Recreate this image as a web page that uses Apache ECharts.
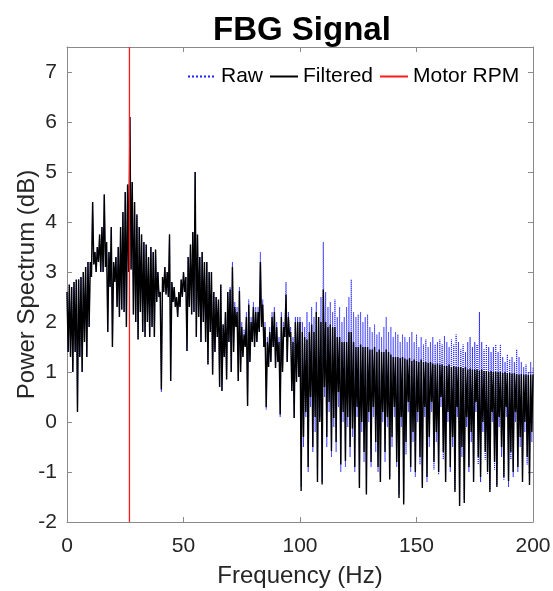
<!DOCTYPE html>
<html>
<head>
<meta charset="utf-8">
<script src="https://cdn.jsdelivr.net/npm/echarts@6/dist/echarts.min.js"></script>
<style>html,body{margin:0;padding:0;background:#fff;}#c{width:553px;height:591px;}</style>
</head>
<body>
<div id="c"></div>
<script>
// Frequency grid: a peak value at every whole Hz, a trough value half a Hz later
var xTicks = [0, 50, 100, 150, 200];
var yTicks = [-2, -1, 0, 1, 2, 3, 4, 5, 6, 7];
var motorRpmHz = 26.8;

// Filtered spectrum, local maxima (index = Hz, 0..200)
var filteredPeaks = [
2.6,2.75,2.7,2.8,2.85,2.85,2.9,3.0,3.1,3.2,
3.2,4.4,3.4,3.5,3.75,3.9,4.55,3.6,3.4,3.9,
3.2,3.3,3.5,3.9,4.2,4.6,4.75,6.1,4.8,4.4,
4.15,3.9,3.75,3.6,3.55,3.3,3.5,3.4,3.45,3.0,
2.6,2.9,3.1,3.0,3.75,2.8,2.7,2.5,2.6,2.85,
3.0,2.9,3.3,3.55,3.8,5.0,3.75,3.3,3.4,3.2,
3.2,3.0,3.0,2.6,2.5,2.45,2.75,1.95,2.2,2.6,
2.65,3.1,2.3,2.2,2.62,1.9,1.75,2.1,2.35,2.0,
2.3,2.2,2.2,3.2,2.35,1.9,1.6,1.8,2.1,2.2,
1.9,1.6,2.1,1.9,2.55,2.1,1.8,1.6,2.0,2.0,
2.0,1.8,1.7,1.65,1.8,1.95,1.8,2.2,2.1,2.0,
2.65,2.0,1.9,1.95,1.9,1.9,1.7,1.7,1.6,1.6,
1.6,1.8,1.8,1.6,1.5,1.5,1.55,1.5,1.5,1.5,
1.45,1.45,1.5,1.4,1.45,1.4,1.4,1.45,1.4,1.35,
1.3,1.3,1.3,1.28,1.3,1.27,1.25,1.28,1.22,1.25,
1.22,1.2,1.25,1.2,1.2,1.18,1.2,1.17,1.15,1.17,
1.15,1.15,1.12,1.12,1.15,1.1,1.12,1.1,1.1,1.1,
1.08,1.1,1.05,1.07,1.05,1.05,1.05,1.03,1.05,1.02,
1.02,1.0,1.02,1.0,1.0,1.0,1.0,0.98,1.0,0.98,
0.98,0.97,0.98,0.96,0.95,0.96,0.95,0.95,0.94,0.95,
0.95];

// Filtered spectrum, local minima (index i -> i + 0.5 Hz)
var filteredTroughs = [
1.4,1.3,1.0,1.4,0.2,1.3,1.0,1.6,1.3,1.9,
2.9,3.15,3.0,3.2,3.0,3.0,3.1,1.8,2.7,1.5,
2.8,2.3,2.1,2.25,2.2,1.9,3.0,3.05,2.15,2.0,
1.65,2.2,1.8,1.7,2.0,1.7,1.9,1.7,2.4,2.5,
0.65,2.6,2.55,2.5,0.82,2.4,2.3,2.1,2.3,2.5,
2.6,1.42,2.3,2.15,2.2,1.7,2.1,1.6,2.0,1.6,
1.15,1.8,0.95,1.4,1.7,0.7,0.62,1.3,0.85,1.6,
1.0,1.4,1.9,0.82,1.0,1.3,1.5,0.32,1.2,1.6,
1.5,1.6,1.8,1.9,1.5,0.3,1.1,1.2,1.5,1.08,
1.2,0.15,1.0,1.7,1.2,1.7,0.62,0.08,0.8,0.9,
-1.38,-0.3,0.2,-0.9,0.5,-0.5,0.1,-1.2,0.0,-1.25,
0.7,-0.3,0.4,-0.58,0.08,-0.4,0.6,-0.85,0.2,-0.78,
0.1,-0.5,-0.13,-0.9,0.3,-1.32,0.0,-0.6,-1.45,0.2,
-0.8,0.3,-0.4,-0.9,-1.2,0.2,-0.6,0.1,-1.15,-0.3,
0.3,-0.8,-1.52,0.1,-1.65,-0.4,0.4,-0.9,-0.2,-1.0,
0.2,-0.7,-1.32,0.3,-1.1,-0.3,0.4,-0.8,-0.2,-1.0,
0.5,-0.6,-1.2,0.2,-0.9,-0.3,-1.4,0.3,-1.68,-0.5,
-1.62,0.1,-0.9,-0.2,-1.2,0.4,-0.7,-1.1,0.0,-0.6,
-1.0,-1.4,0.2,-0.8,-1.3,0.1,-0.5,-1.1,0.3,-1.18,
-0.6,-1.0,0.2,-0.9,-0.3,-1.2,0.0,-0.7,-1.26,-0.2];

// Raw spectrum, local maxima (index = Hz, 0..200)
var rawPeaks = [
2.6,2.75,2.7,2.8,2.85,2.85,2.9,3.0,3.1,3.2,
3.2,4.4,3.4,3.5,3.75,3.9,4.55,3.6,3.4,3.9,
3.2,3.3,3.5,3.9,4.2,4.6,4.75,6.1,4.8,4.4,
4.15,3.9,3.75,3.6,3.55,3.3,3.5,3.4,3.45,3.0,
2.6,2.9,3.1,3.0,3.75,2.8,2.7,2.5,2.6,2.85,
3.0,2.9,3.3,3.55,3.8,5.0,3.75,3.3,3.4,3.2,
3.2,3.0,3.0,2.6,2.5,2.45,2.75,1.95,2.2,2.6,
2.7,3.2,2.4,2.3,2.7,2.0,1.85,2.2,2.45,2.1,
2.4,2.3,2.3,3.4,2.45,2.0,1.7,1.9,2.2,2.3,
2.0,1.7,2.2,2.0,2.8,2.2,1.9,1.7,2.1,2.1,
2.1,2.0,1.9,2.2,2.0,2.3,2.1,2.4,2.1,2.5,
3.6,2.6,2.3,2.4,2.2,2.45,2.1,2.3,2.0,2.1,
2.3,2.5,2.85,2.2,2.1,2.15,2.2,2.0,2.1,2.15,
1.9,1.8,1.95,1.75,1.8,1.7,1.9,2.1,1.8,1.9,
1.7,1.8,1.75,1.6,1.75,1.7,1.6,1.7,1.8,1.6,
1.75,1.5,1.7,1.55,1.65,1.5,1.6,1.7,1.55,1.6,
1.65,1.55,1.72,1.6,1.5,1.65,1.55,1.75,1.6,1.45,
1.55,1.4,1.6,1.7,1.5,1.6,1.55,2.2,1.6,1.45,
1.55,1.5,1.4,1.5,1.55,1.4,1.55,1.3,1.2,1.35,
1.25,1.3,1.2,1.45,1.3,1.2,1.1,1.15,1.0,1.2,
1.1];

// Raw spectrum, local minima (index i -> i + 0.5 Hz)
var rawTroughs = [
1.4,1.3,1.0,1.4,0.2,1.3,1.0,1.6,1.3,1.9,
2.9,3.15,3.0,3.2,3.0,3.0,3.1,1.8,2.7,1.5,
2.8,2.3,2.1,2.25,2.2,1.9,3.0,3.05,2.15,2.0,
1.65,2.2,1.8,1.7,2.0,1.7,1.9,1.7,2.4,2.5,
0.6,2.6,2.55,2.5,0.82,2.4,2.3,2.1,2.3,2.5,
2.6,1.42,2.3,2.15,2.2,1.7,2.1,1.6,2.0,1.6,
1.15,1.8,0.95,1.4,1.7,0.7,0.62,1.3,0.85,1.6,
1.0,1.4,1.9,0.82,1.0,1.3,1.5,0.32,1.2,1.6,
1.5,1.6,1.8,1.9,1.5,0.25,1.1,1.2,1.5,1.08,
1.2,0.1,1.0,1.7,1.2,1.7,0.62,0.08,0.8,0.9,
-1.3,-0.5,0.1,-1.0,0.3,-0.6,-0.2,-1.1,0.1,-1.2,
0.5,-0.5,0.2,-0.7,-0.1,-0.6,0.3,-1.0,0.0,-0.9,
-0.1,-0.7,-0.3,-1.0,0.1,-1.25,-0.2,-0.8,-1.4,0.0,
-0.9,0.1,-0.6,-1.0,-1.1,0.0,-0.8,-0.1,-1.1,-0.5,
0.1,-0.9,-1.45,-0.1,-1.6,-0.65,0.2,-1.0,-0.4,-1.1,
0.0,-0.85,-1.25,0.1,-1.2,-0.5,0.2,-0.95,-0.4,-1.05,
0.3,-0.75,-1.15,0.0,-1.0,-0.5,-1.35,0.1,-1.6,-0.7,
-1.55,-0.1,-1.0,-0.4,-1.15,0.2,-0.85,-1.2,-0.2,-0.75,
-1.05,-1.35,0.0,-0.95,-1.25,-0.1,-0.7,-1.15,0.1,-1.3,
-0.75,-1.1,0.0,-1.0,-0.5,-1.15,-0.2,-0.85,-1.2,-0.4];

function interleave(peaks, troughs) {
  var out = [];
  for (var i = 0; i < troughs.length; i++) {
    out.push([i, peaks[i]]);
    out.push([i + 0.5, troughs[i]]);
  }
  out.push([troughs.length, peaks[troughs.length]]);
  return out;
}

var rawData = interleave(rawPeaks, rawTroughs);
var filteredData = interleave(filteredPeaks, filteredTroughs);
var yMin = yTicks[0], yMax = 7.5;
var rpmData = [[motorRpmHz, yMin], [motorRpmHz, yMax]];

var axisCol = '#8a8a8a';
var textCol = '#262626';
var font = 'Liberation Sans, Arial, sans-serif';

var chart = echarts.init(document.getElementById('c'), null, {renderer: 'canvas'});
chart.setOption({
  animation: false,
  backgroundColor: '#fff',
  title: {
    text: 'FBG Signal',
    left: 208, top: 9,
    textStyle: {fontFamily: font, fontSize: 33, fontWeight: 'bold', color: '#000'}
  },
  legend: {
    data: ['Raw', 'Filtered', 'Motor RPM'],
    left: 182, top: 61,
    itemWidth: 28, itemHeight: 14, itemGap: 6,
    itemStyle: {color: 'rgba(0,0,0,0)', borderColor: 'rgba(0,0,0,0)', borderWidth: 0},
    textStyle: {fontFamily: font, fontSize: 21, color: '#000'}
  },
  grid: {left: 67, right: 20, top: 47, bottom: 69, containLabel: false, outerBoundsMode: 'none'},
  xAxis: [{
    type: 'value', min: xTicks[0], max: xTicks[xTicks.length - 1], interval: 50,
    position: 'bottom',
    name: 'Frequency (Hz)', nameLocation: 'middle', nameGap: 42, nameMoveOverlap: false,
    nameTextStyle: {fontFamily: font, fontSize: 24, color: textCol},
    axisLine: {show: true, onZero: false, lineStyle: {color: axisCol, width: 1}},
    axisTick: {show: true, inside: true, length: 5, lineStyle: {color: axisCol}},
    axisLabel: {fontFamily: font, fontSize: 21, color: textCol, margin: 14},
    splitLine: {show: false}
  }, {
    type: 'value', min: xTicks[0], max: xTicks[xTicks.length - 1], interval: 50,
    position: 'top',
    axisLine: {show: true, onZero: false, lineStyle: {color: axisCol, width: 1}},
    axisTick: {show: true, inside: true, length: 5, lineStyle: {color: axisCol}},
    axisLabel: {show: false},
    splitLine: {show: false}
  }],
  yAxis: [{
    type: 'value', min: yMin, max: yMax, interval: 1,
    position: 'left',
    name: 'Power Spectrum (dB)', nameLocation: 'middle', nameGap: 28, nameMoveOverlap: false,
    nameTextStyle: {fontFamily: font, fontSize: 24, color: textCol},
    axisLine: {show: true, onZero: false, lineStyle: {color: axisCol, width: 1}},
    axisTick: {show: true, inside: true, length: 5, lineStyle: {color: axisCol}},
    axisLabel: {fontFamily: font, fontSize: 21, color: textCol, margin: 10, showMaxLabel: false},
    splitLine: {show: false}
  }, {
    type: 'value', min: yMin, max: yMax, interval: 1,
    position: 'right',
    axisLine: {show: true, onZero: false, lineStyle: {color: axisCol, width: 1}},
    axisTick: {show: true, inside: true, length: 5, lineStyle: {color: axisCol}},
    axisLabel: {show: false},
    splitLine: {show: false}
  }],
  series: [{
    name: 'Raw', type: 'line', data: rawData, symbol: 'none', z: 2,
    lineStyle: {color: '#1f1fff', width: 1, type: 'dotted'},
    itemStyle: {color: '#1f1fff'}
  }, {
    name: 'Filtered', type: 'line', data: filteredData, symbol: 'none', z: 3,
    lineStyle: {color: '#000', width: 1.4},
    itemStyle: {color: '#000'}
  }, {
    name: 'Motor RPM', type: 'line', data: rpmData, symbol: 'none', z: 4,
    lineStyle: {color: '#ff1a1a', width: 1.3},
    itemStyle: {color: '#ff1a1a'}
  }]
});
</script>
</body>
</html>
